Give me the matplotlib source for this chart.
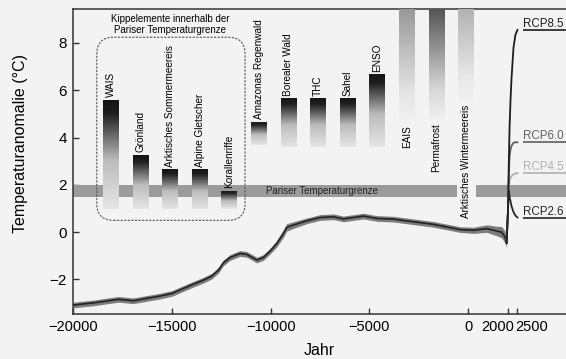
import numpy as np
import matplotlib.pyplot as plt
from matplotlib.patches import FancyBboxPatch
from matplotlib.transforms import ScaledTranslation

plt.rcParams['font.family'] = ['Liberation Sans', 'DejaVu Sans']

# Temperaturrekonstruktion seit dem letzten glazialen Maximum
hol_jahr = [-20000, -18980, -17970, -17720, -16960, -16280, -15600, -15000, -14420,
            -13920, -13410, -12990, -12650, -12400, -12060, -11550, -11210, -10700,
            -10370, -10030, -9690, -9360, -9190, -8850, -8170, -7500, -6820, -6320,
            -5810, -5300, -4630, -3780, -2770, -1760, -1080, -410, 270, 950, 1450,
            1700, 1870, 1950]
hol_temp = [-3.08, -2.99, -2.87, -2.84, -2.90, -2.80, -2.70, -2.59, -2.38,
            -2.20, -2.03, -1.86, -1.61, -1.30, -1.07, -0.90, -0.94, -1.18,
            -1.07, -0.80, -0.48, -0.06, 0.20, 0.30, 0.48, 0.62, 0.65, 0.56,
            0.62, 0.68, 0.58, 0.55, 0.44, 0.33, 0.22, 0.11, 0.08, 0.15, 0.05,
            0.0, -0.2, -0.45]
hol_unsicher = [0.12, 0.12, 0.12, 0.12, 0.12, 0.12, 0.12, 0.12, 0.12,
                0.12, 0.12, 0.12, 0.12, 0.12, 0.12, 0.12, 0.12, 0.12,
                0.12, 0.12, 0.14, 0.16, 0.16, 0.14, 0.12, 0.12, 0.12, 0.12,
                0.12, 0.12, 0.12, 0.12, 0.12, 0.12, 0.12, 0.12, 0.13, 0.16, 0.2,
                0.24, 0.25, 0.2]

# Projektionen
rcp_jahr = [1950, 2020, 2060, 2100, 2150, 2200, 2300, 2400, 2500]
rcp85 = [-0.45, 0.9, 2.8, 4.4, 5.6, 6.5, 7.8, 8.35, 8.55]
rcp60 = [-0.45, 0.9, 2.3, 3.2, 3.5, 3.65, 3.78, 3.8, 3.8]
rcp45 = [-0.45, 0.9, 1.8, 2.15, 2.3, 2.38, 2.45, 2.48, 2.5]
rcp26 = [-0.45, 0.9, 1.75, 1.5, 1.3, 1.1, 0.85, 0.7, 0.62]
rcp_namen = ['RCP8.5', 'RCP6.0', 'RCP4.5', 'RCP2.6']
rcp_werte = [rcp85, rcp60, rcp45, rcp26]
rcp_farben = ['#1e1e1e', '#5e5e5e', '#b0b0b0', '#262626']

# Kippelemente
kipp_namen = ['WAIS', 'Grönland', 'Arktisches Sommermeereis', 'Alpine Gletscher',
              'Korallenriffe', 'Amazonas Regenwald', 'Borealer Wald', 'THC', 'Sahel',
              'ENSO', 'EAIS', 'Permafrost', 'Arktisches Wintermeereis']
kipp_jahr = [-18100, -16600, -15100, -13600, -12100, -10600, -9100, -7600, -6100,
             -4600, -3100, -1600, -100]
kipp_oben = [5.6, 3.25, 2.65, 2.65, 1.75, 4.65, 5.65, 5.65, 5.65, 6.65, 10, 10, 10]
kipp_unten = [1.0, 1.0, 1.0, 1.0, 1.0, 3.7, 3.6, 3.6, 3.6, 3.6, 4.6, 4.7, 5.5]
kipp_ton = [0.08, 0.08, 0.08, 0.08, 0.1, 0.1, 0.08, 0.08, 0.08, 0.08, 0.55, 0.25, 0.66]

# Pariser Temperaturgrenze
paris_unten, paris_oben = 1.5, 2.0

x_min, x_max = -20000, 4960
y_min, y_max = -3.46, 9.42
hintergrund = '#f3f3f3'

fig = plt.figure(figsize=(5.66, 3.59), dpi=100, facecolor=hintergrund)
ax = fig.add_axes([0.1295, 0.1253, 0.8705, 0.8487], facecolor=hintergrund)

# Band der Pariser Grenze, mit Lücke beim Wintermeereis
luecke_l = kipp_jahr[-1] - 480
luecke_r = kipp_jahr[-1] + 480
ax.fill_between([x_min, luecke_l], paris_unten, paris_oben, color='#9b9b9b', lw=0, zorder=2)
ax.fill_between([luecke_r, x_max + 2000], paris_unten, paris_oben, color='#9b9b9b', lw=0, zorder=2)
ax.text(-7400, (paris_unten + paris_oben) / 2, 'Pariser Temperaturgrenze', fontsize=7,
        ha='center', va='center', color='#222222', zorder=4)

# Balken mit Verlauf von dunkel (oben) nach hell (unten)
f = np.linspace(0, 1, 200)
s_kurz = np.interp(f, [0, 0.12, 0.55, 1], [0, 0.05, 0.8, 1])
s_lang = np.interp(f, [0, 0.1, 0.75, 1], [0, 0.1, 0.85, 1])
breite = 800
for name, x, oben, unten, ton in zip(kipp_namen, kipp_jahr, kipp_oben, kipp_unten, kipp_ton):
    if oben > y_max:
        grau = ton + (0.95 - ton) * s_lang
    else:
        grau = ton + (0.9 - ton) * s_kurz
    bild = np.repeat(grau[:, None, None], 3, axis=2)
    ax.imshow(bild, extent=[x - breite / 2, x + breite / 2, unten, oben], aspect='auto',
              interpolation='bilinear', zorder=3)
    if oben > y_max:
        ax.text(x, unten - 0.1, name, rotation=90, fontsize=7.2, ha='center', va='top', zorder=4)
    else:
        ax.text(x, oben + 0.12, name, rotation=90, fontsize=7.2, ha='center', va='bottom', zorder=4)

# gestrichelter Rahmen mit runden Ecken
ax_w = 0.8705 * 566
ax_h = 0.8487 * 359
aspekt = ((y_max - y_min) / ax_h) / ((x_max - x_min) / ax_w)
rahmen = FancyBboxPatch((-18810, 0.5), 7510, 7.74,
                        boxstyle='round,pad=0,rounding_size=850', mutation_aspect=aspekt,
                        fill=False, ec='#555555', lw=0.8, ls=(0, (2, 1.2)), zorder=4)
ax.add_patch(rahmen)
ax.text(-15080, 8.78, 'Kippelemente innerhalb der\nPariser Temperaturgrenze', fontsize=7,
        ha='center', va='center', linespacing=1.15, zorder=4)

# Temperaturkurve
hol_temp = np.array(hol_temp)
hol_unsicher = np.array(hol_unsicher)
ax.fill_between(hol_jahr, hol_temp - hol_unsicher, hol_temp + hol_unsicher,
                color='#7c7c7c', lw=0, zorder=5)
ax.plot(hol_jahr, hol_temp, color='#222222', lw=1.2, zorder=6)

for i in [2, 1, 0, 3]:
    ax.plot(rcp_jahr, rcp_werte[i], color=rcp_farben[i], lw=1.3, zorder=6)
    ende = rcp_werte[i][-1]
    ax.hlines(ende, 2800, x_max + 5000, color=rcp_farben[i], lw=1.2, zorder=6)
    ax.text(2760, ende + 0.12, rcp_namen[i], fontsize=8.3, color=rcp_farben[i],
            ha='left', va='baseline', zorder=6)

ax.set_xlim(x_min, x_max)
ax.set_ylim(y_min, y_max)

ax.set_xticks([-20000, -15000, -10000, -5000, 0, 2000, 2500])
ax.set_xticklabels(['\u221220000', '\u221215000', '\u221210000', '\u22125000', '0', '2000', '2500'])
ax.set_yticks([-2, 0, 2, 4, 6, 8])
ax.set_yticklabels(['\u22122', '0', '2', '4', '6', '8'])
ax.tick_params(direction='in', length=4, width=1, color='#333333', labelsize=10.5, pad=4.5)
ax.tick_params(axis='y', labelsize=11)

labels = ax.get_xticklabels()
labels[5].set_transform(labels[5].get_transform() + ScaledTranslation(-0.10, 0, fig.dpi_scale_trans))
labels[6].set_transform(labels[6].get_transform() + ScaledTranslation(0.14, 0, fig.dpi_scale_trans))

for seite in ['left', 'bottom', 'top']:
    ax.spines[seite].set_color('#333333')
    ax.spines[seite].set_linewidth(1.1)
ax.spines['right'].set_visible(False)

ax.set_xlabel('Jahr', fontsize=11.5)
ax.xaxis.set_label_coords(0.5, -0.095)
ax.set_ylabel('Temperaturanomalie (°C)', fontsize=11.5)
ax.yaxis.set_label_coords(-0.092, 0.56)

fig.savefig('out.png', dpi=100, facecolor=hintergrund)
